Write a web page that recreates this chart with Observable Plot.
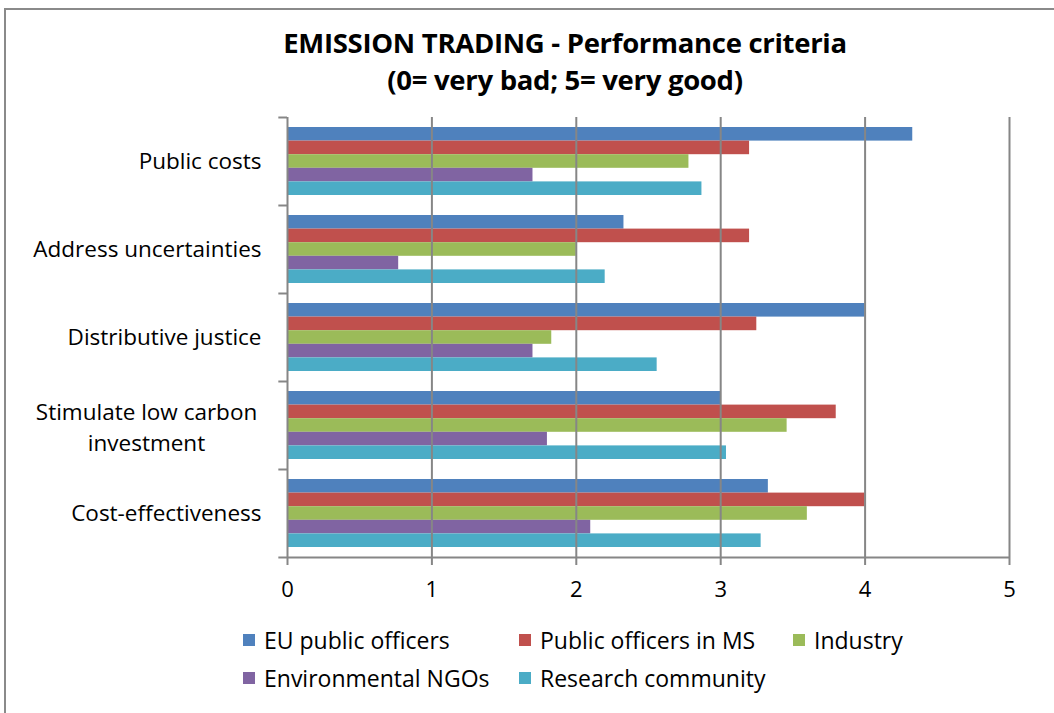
<!DOCTYPE html>
<html>
<head>
<meta charset="utf-8">
<script src="https://cdn.jsdelivr.net/npm/d3@7"></script>
<script src="https://cdn.jsdelivr.net/npm/@observablehq/plot@0.6"></script>
<style>
  html, body { margin: 0; padding: 0; background: #fff; }
  #wrap { position: relative; width: 1054px; height: 713px; overflow: hidden; font-family: "Open Sans", sans-serif; }
  #border { position: absolute; left: 4px; top: 8px; right: -10px; bottom: -10px; border-top: 2px solid #8a8a8a; border-left: 2px solid #8a8a8a; }
  #title { position: absolute; left: 0; top: 24px; width: 1130px; text-align: center; font-weight: bold; font-size: 27.5px; line-height: 37px; color: #000; letter-spacing: -0.3px; }
  #chart { position: absolute; left: 0; top: 0; }
  #legend { position: absolute; left: 0; top: 0; font-size: 23px; color: #000; }
  .item { position: absolute; display: flex; align-items: center; white-space: nowrap; }
  .sw { width: 12px; height: 12px; margin-right: 9px; }
</style>
</head>
<body>
<div id="wrap">
  <div id="border"></div>
  <div id="title">EMISSION TRADING - Performance criteria<br>(0= very bad; 5= very good)</div>
  <div id="chart"></div>
  <div id="legend"></div>
</div>
<script>
const categories = ["Public costs", "Address uncertainties", "Distributive justice", "Stimulate low carbon investment", "Cost-effectiveness"];
const seriesNames = ["EU public officers", "Public officers in MS", "Industry", "Environmental NGOs", "Research community"];
const seriesColors = ["#4F81BD", "#C0504D", "#9BBB59", "#8064A2", "#4BACC6"];
const euOfficers   = [4.33, 2.33, 4.00, 3.00, 3.33];
const msOfficers   = [3.20, 3.20, 3.25, 3.80, 4.00];
const industry     = [2.78, 2.00, 1.83, 3.46, 3.60];
const ngos         = [1.70, 0.77, 1.70, 1.80, 2.10];
const research     = [2.87, 2.20, 2.56, 3.04, 3.28];
const xTicks = [0, 1, 2, 3, 4, 5];

const seriesValues = [euOfficers, msOfficers, industry, ngos, research];
const data = [];
seriesNames.forEach((s, i) => categories.forEach((c, j) => data.push({series: s, category: c, value: seriesValues[i][j]})));

const band = 88, pad = 10, barH = (band - 2 * pad) / seriesNames.length;

const barMarks = seriesNames.map((s, i) => Plot.barX(data.filter(d => d.series === s), {
  x: "value", y: "category", fill: "series",
  insetTop: pad + i * barH, insetBottom: band - pad - (i + 1) * barH
}));

const wrapped = {"Stimulate low carbon investment": "Stimulate low carbon\ninvestment"};
const labelFmt = d => wrapped[d] ? "" : d;

const plot = Plot.plot({
  width: 1054, height: 615,
  marginLeft: 287, marginRight: 45, marginTop: 117, marginBottom: 58,
  style: {fontFamily: "Open Sans, sans-serif", fontSize: "22px", background: "transparent", color: "#000"},
  x: {domain: [0, 5], ticks: xTicks},
  y: {domain: categories, padding: 0},
  color: {domain: seriesNames, range: seriesColors},
  marks: [
    ...barMarks,
    Plot.gridX(xTicks.filter(t => t > 0), {stroke: "#868686", strokeOpacity: 1, strokeWidth: 2}),
    Plot.ruleY(categories, {y: d => d, dy: band / 2, x1: 0, x2: -0.06, stroke: "#868686", strokeWidth: 2, clip: false}),
    Plot.ruleY([categories[0]], {y: d => d, dy: -band / 2, x1: 0, x2: -0.06, stroke: "#868686", strokeWidth: 2, clip: false}),
    Plot.ruleX([0], {stroke: "#868686", strokeWidth: 2}),
    Plot.ruleY([categories[categories.length - 1]], {y: d => d, dy: band / 2, x1: 0, x2: 5, stroke: "#868686", strokeWidth: 2}),
    Plot.axisX({ticks: xTicks, tickFormat: d3.format("d"), tickSize: 8, tickPadding: 16, stroke: "#868686", strokeWidth: 2, fontSize: 22, label: null, color: "#000"}),
    Plot.axisY({tickSize: 0, tickPadding: 26, fontSize: 22.5, label: null, tickFormat: labelFmt}),
    Plot.text(Object.keys(wrapped), {y: d => d, text: d => wrapped[d], frameAnchor: "left", dx: -141, textAnchor: "middle", lineHeight: 1.4, fontSize: 22.5, fill: "#000"})
  ]
});
document.getElementById("chart").appendChild(plot);

const legendPos = [[243, 641], [519, 641], [793, 641], [243, 679], [519, 679]];
const legend = document.getElementById("legend");
seriesNames.forEach((s, i) => {
  const it = document.createElement("div");
  it.className = "item";
  it.style.left = legendPos[i][0] + "px";
  it.style.top = (legendPos[i][1] - 17) + "px";
  it.innerHTML = `<span class="sw" style="background:${seriesColors[i]}"></span><span>${s}</span>`;
  legend.appendChild(it);
});
</script>
</body>
</html>
